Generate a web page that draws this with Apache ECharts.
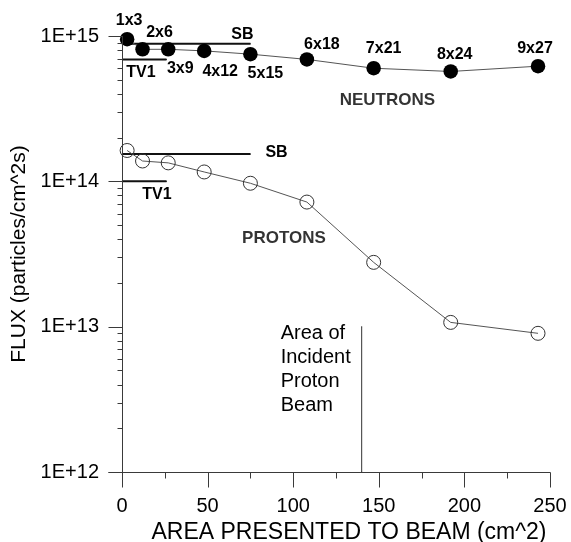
<!DOCTYPE html>
<html>
<head>
<meta charset="utf-8">
<script src="https://cdn.jsdelivr.net/npm/echarts@6/dist/echarts.min.js"></script>
<style>
  html, body { margin: 0; padding: 0; background: #fff; }
  #main { width: 571px; height: 542px; }
</style>
</head>
<body>
<div id="main"></div>
<script>
// Target array configurations and the area each presents to the beam (cm^2)
const areas = [3, 12, 27, 48, 75, 108, 147, 192, 243];
const arrayNames = ['1x3', '2x6', '3x9', '4x12', '5x15', '6x18', '7x21', '8x24', '9x27'];

// Measured flux (particles/cm^2s)
const neutronFlux = [9.5e14, 8.1e14, 8.1e14, 7.9e14, 7.5e14, 6.9e14, 6.0e14, 5.7e14, 6.2e14];
const protonFlux = [1.63e14, 1.38e14, 1.34e14, 1.16e14, 9.7e13, 7.2e13, 2.77e13, 1.07e13, 9.0e12];

// Reference flux levels for the SB and TV1 configurations
const neutronSB = 8.85e14;
const neutronTV1 = 6.9e14;
const protonSB = 1.54e14;
const protonTV1 = 1.0e14;
const sbAreaRange = [0, 75];
const tv1AreaRange = [0, 26];

// Area of the incident proton beam
const beamArea = 140;
const beamFluxRange = [1e12, 1e13];

// Series captions and where they sit (area, flux)
const captionTexts = ['NEUTRONS', 'PROTONS'];
const captionAnchors = [[155, 3.63e14], [94.6, 4.07e13]];

// Axis ranges and ticks
const xRange = [0, 250];
const xStep = 50;
const yDecades = [1e12, 1e13, 1e14, 1e15];
const yMinorTicks = [];
yDecades.slice(0, -1).forEach(d => {
  for (let k = 2; k <= 9; k++) yMinorTicks.push(k * d);
});
const xMajorTicks = [];
const xMinorTicks = [];
for (let v = xRange[0]; v <= xRange[1]; v += xStep) {
  xMajorTicks.push(v);
  if (v + xStep / 2 < xRange[1]) xMinorTicks.push(v + xStep / 2);
}

// Offsets of the configuration labels from their points (px)
const nameOffsets = [[2, -19], [17, -17], [12, 19], [16, 21], [15, 19], [15, -15], [10, -20], [4, -17], [-3, -18]];

const FONT = "'Liberation Sans', Arial, Helvetica, sans-serif";
const AXIS_COLOR = '#3a3a3a';
const REF_COLOR = '#111';

function sciLabel(v) {
  const e = Math.round(Math.log10(v));
  const m = Math.round(v / Math.pow(10, e) * 100) / 100;
  return m + 'E' + (e >= 0 ? '+' : '') + e;
}

const annoLabel = {
  color: '#000',
  fontFamily: FONT,
  fontWeight: 'bold',
  fontSize: 16,
  textBorderWidth: 0
};

function refLine(value, range, text, atEnd, offset, align) {
  const pts = [[range[0], value], [range[1], value]];
  return {
    type: 'line',
    silent: true,
    symbol: 'circle',
    symbolSize: 1,
    itemStyle: { color: REF_COLOR },
    lineStyle: { color: REF_COLOR, width: 2 },
    data: pts.map((p, i) => {
      const item = { value: p };
      if ((i === 1) === atEnd) {
        item.label = Object.assign({
          show: true,
          position: 'inside',
          formatter: text,
          offset: offset,
          align: align || 'center',
          verticalAlign: 'middle'
        }, annoLabel);
      }
      return item;
    }),
    z: 3
  };
}

const chart = echarts.init(document.getElementById('main'), null, { renderer: 'canvas' });

const option = {
  animation: false,
  backgroundColor: '#fff',
  grid: { left: 122, right: 21, top: 36, bottom: 70, containLabel: false, outerBoundsMode: 'none' },
  xAxis: {
    type: 'value',
    min: xRange[0],
    max: xRange[1],
    interval: xStep,
    name: 'AREA PRESENTED TO BEAM (cm^2)',
    nameLocation: 'middle',
    nameGap: 46,
    nameTextStyle: { color: '#000', fontFamily: FONT, fontSize: 23, padding: [0, 0, 0, 26] },
    axisLine: { show: false, onZero: false },
    axisTick: { show: false },
    minorTick: { show: false },
    axisLabel: { color: '#000', fontFamily: FONT, fontSize: 20, margin: 24 },
    splitLine: { show: false },
    minorSplitLine: { show: false }
  },
  yAxis: {
    type: 'log',
    logBase: 10,
    min: yDecades[0],
    max: yDecades[yDecades.length - 1],
    position: 'left',
    name: 'FLUX (particles/cm^2s)',
    nameLocation: 'middle',
    nameGap: 91,
    nameTextStyle: { color: '#000', fontFamily: FONT, fontSize: 21 },
    axisLine: { show: false, onZero: false },
    axisTick: { show: false },
    axisLabel: { color: '#000', fontFamily: FONT, fontSize: 20, margin: 23, formatter: sciLabel, showMinLabel: true, showMaxLabel: true },
    splitLine: { show: false }
  },
  series: [
    {
      name: 'Neutrons',
      type: 'line',
      silent: true,
      data: areas.map((a, i) => ({ value: [a, neutronFlux[i]], label: { offset: nameOffsets[i] } })),
      symbol: 'circle',
      symbolSize: 14.5,
      itemStyle: { color: '#000' },
      lineStyle: { color: '#555', width: 1 },
      label: Object.assign({
        show: true,
        position: 'inside',
        align: 'center',
        verticalAlign: 'middle',
        formatter: p => arrayNames[p.dataIndex]
      }, annoLabel),
      z: 4
    },
    {
      name: 'Protons',
      type: 'line',
      silent: true,
      data: areas.map((a, i) => [a, protonFlux[i]]),
      symbol: 'circle',
      symbolSize: 14,
      itemStyle: { color: 'none', borderColor: '#333', borderWidth: 1 },
      lineStyle: { color: '#555', width: 1 },
      z: 4
    },
    refLine(neutronSB, sbAreaRange, 'SB', true, [-8, -9]),
    refLine(neutronTV1, tv1AreaRange, 'TV1', false, [19, 13]),
    refLine(protonSB, sbAreaRange, 'SB', true, [15, -1.5], 'left'),
    refLine(protonTV1, tv1AreaRange, 'TV1', false, [35, 13]),
    {
      name: 'Beam',
      type: 'line',
      silent: true,
      symbol: 'circle',
      symbolSize: 1,
      itemStyle: { color: '#333' },
      lineStyle: { color: '#333', width: 1 },
      data: [
        { value: [beamArea, beamFluxRange[0]] },
        {
          value: [beamArea, beamFluxRange[1]],
          label: {
            show: true,
            position: 'inside',
            formatter: 'Area of\nIncident\nProton\nBeam',
            align: 'left',
            verticalAlign: 'top',
            offset: [-81, -5],
            color: '#000',
            fontFamily: FONT,
            fontSize: 20,
            lineHeight: 24,
            textBorderWidth: 0
          }
        }
      ],
      z: 3
    },
    {
      name: 'Captions',
      type: 'scatter',
      silent: true,
      symbol: 'circle',
      symbolSize: 1,
      itemStyle: { color: '#fff' },
      data: captionAnchors.map(a => a.slice()),
      label: {
        show: true,
        position: 'inside',
        align: 'center',
        verticalAlign: 'middle',
        formatter: p => captionTexts[p.dataIndex],
        color: '#000',
        fontFamily: FONT,
        fontWeight: 'bold',
        fontSize: 17,
        textBorderWidth: 0
      },
      z: 3
    }
  ]
};

chart.setOption(option);

// Axis lines and tick marks, positioned through the chart's own scales
const toPx = v => chart.convertToPixel({ xAxisIndex: 0, yAxisIndex: 0 }, v);
const crisp = v => Math.round(v) + 0.5;
const segs = [];
function seg(a, b) { segs.push([a, b]); }

const origin = toPx([xRange[0], yDecades[0]]);
const topLeft = toPx([xRange[0], yDecades[yDecades.length - 1]]);
const bottomRight = toPx([xRange[1], yDecades[0]]);
const ax = crisp(origin[0]);
const ay = crisp(origin[1]);

seg([ax, topLeft[1]], [ax, ay]);                      // y axis line
seg([ax - 14, ay], [bottomRight[0] + 0.5, ay]);       // x axis line
yDecades.forEach(v => { const y = crisp(toPx([xRange[0], v])[1]); seg([ax - 14, y], [ax, y]); });
yMinorTicks.forEach(v => { const y = crisp(toPx([xRange[0], v])[1]); seg([ax - 5, y], [ax, y]); });
xMajorTicks.forEach(v => { const x = crisp(toPx([v, yDecades[0]])[0]); seg([x, ay], [x, ay + 15]); });
xMinorTicks.forEach(v => { const x = crisp(toPx([v, yDecades[0]])[0]); seg([x, ay], [x, ay + 6]); });

chart.setOption({
  graphic: segs.map(s => ({
    type: 'polyline',
    silent: true,
    z: 10,
    shape: { points: [s[0], s[1]] },
    style: { stroke: AXIS_COLOR, lineWidth: 1, fill: null }
  }))
});
</script>
</body>
</html>
